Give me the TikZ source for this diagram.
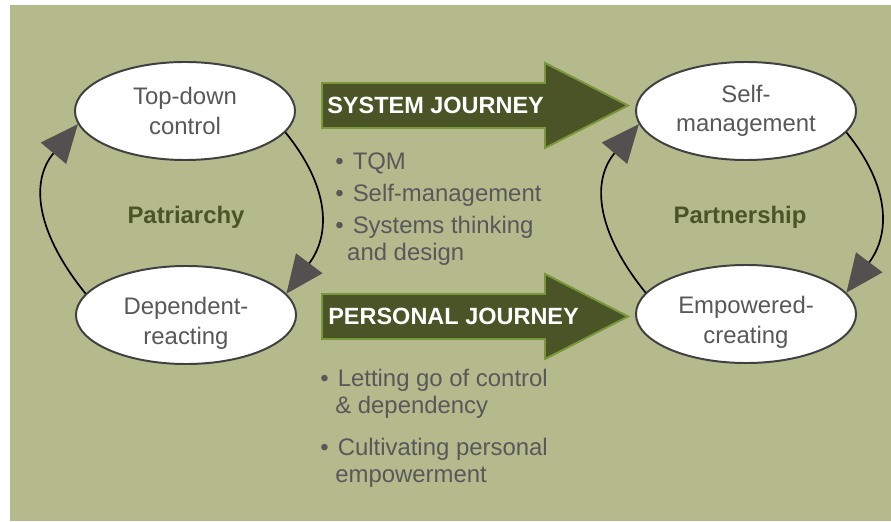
\documentclass[tikz,border=0pt]{standalone}
\usepackage{fontspec}
\setmainfont{Liberation Sans}
\usetikzlibrary{shapes.geometric,arrows.meta}

\definecolor{bggreen}{RGB}{181,186,141}
\definecolor{olive}{RGB}{74,84,38}
\definecolor{olivebrd}{RGB}{122,150,58}
\definecolor{txtgrey}{RGB}{88,88,90}
\definecolor{tipgrey}{RGB}{85,80,80}

\begin{document}
\begin{tikzpicture}[x=0.025cm,y=0.025cm,
  state/.style={ellipse,draw=black!75,line width=1.4pt,fill=white,
    minimum width=5.5cm,minimum height=2.45cm,inner sep=0pt,align=center,
    text=txtgrey,font=\fontsize{17}{21}\selectfont},
  loopline/.style={line width=1.2pt,looseness=1.15,
    -{Triangle[length=0.95cm,width=0.82cm,color=tipgrey]}},
  journey/.style={draw=olivebrd,fill=olive,line width=1.4pt},
  jtext/.style={anchor=west,inner sep=0pt,text=white,
    font=\fontsize{16.7}{20}\selectfont\bfseries},
  cyclename/.style={inner sep=0pt,text=olive,font=\fontsize{17}{20}\selectfont\bfseries},
  bullets/.style={anchor=north west,inner sep=0pt,align=left,text=txtgrey,
    font=\fontsize{17}{19.2}\selectfont}]
  % background
  \useasboundingbox (0,0) rectangle (891,521);
  \fill[bggreen] (10,0) rectangle (891,516);

  % left cycle
  \node[state] (tdc) at (185,410) {Top-down\\control};
  \node[state] (dep) at (186,206) {\rule{0pt}{24pt}Dependent-\\reacting};
  \draw[loopline] (tdc.-12) to[out=-51,in=53] (dep.12);
  \draw[loopline] (dep.168) to[out=129,in=230] (tdc.187);
  \node[cyclename] (patr) at (186,304) {Patriarchy};

  % right cycle
  \node[state] (selfm) at (746,410) {Self-\\management};
  \node[state] (emp) at (746,207) {\rule{0pt}{24pt}Empowered-\\creating};
  \draw[loopline] (selfm.-12) to[out=-51,in=53] (emp.12);
  \draw[loopline] (emp.168) to[out=129,in=230] (selfm.187);
  \node[cyclename] (partn) at (740,304) {Partnership};

  % the two journeys
  \draw[journey] (322,438) -- (545,438) -- (545,458) -- (628,415.5)
    -- (545,373) -- (545,393) -- (322,393) -- cycle;
  \node[jtext] (sysj) at (327,415.5) {SYSTEM JOURNEY};
  \draw[journey] (322,227) -- (545,227) -- (545,247) -- (628,204.5)
    -- (545,162) -- (545,182) -- (322,182) -- cycle;
  \node[jtext] (persj) at (328,204.5) {PERSONAL JOURNEY};

  % what each journey brings
  \node[bullets] (sysl) at (335,368) {\textbullet\hspace{6.5pt}TQM\\[3.3pt]
    \textbullet\hspace{6.5pt}Self-management\\[3.3pt]
    \textbullet\hspace{6.5pt}Systems thinking\\
    \hspace*{8.5pt}and design};
  \node[bullets] (persl) at (320,152.5) {\textbullet\hspace{6.5pt}Letting go of control\\
    \hspace*{10.7pt}\& dependency\\[11pt]
    \textbullet\hspace{6.5pt}Cultivating personal\\
    \hspace*{10.7pt}empowerment};
\end{tikzpicture}
\end{document}
